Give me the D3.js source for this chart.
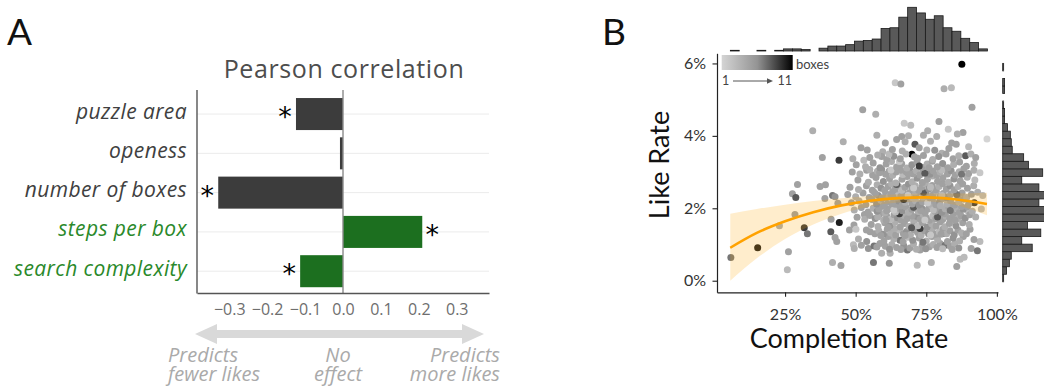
<!DOCTYPE html>
<html><head><meta charset="utf-8">
<script src="https://cdn.jsdelivr.net/npm/d3@7"></script>
<style>body{margin:0;background:#fff}svg{display:block}</style>
</head><body>
<svg id="c" width="1044" height="388"></svg>
<script>
// ---------- Panel A data ----------
const categories = ["puzzle area","openess","number of boxes","steps per box","search complexity"];
const correlations = [-0.124,-0.008,-0.329,0.209,-0.113];
const significant = [true,false,true,true,true];
const categoryGroup = ["dark","dark","dark","green","green"];
const corrTicks = [-0.3,-0.2,-0.1,0,0.1,0.2,0.3];
const effectLabels = [["Predicts","fewer likes"],["No","effect"],["Predicts","more likes"]];

// ---------- Panel B data ----------
const completionTicks = [25,50,75,100];
const likeTicks = [0,2,4,6];
// marginal histogram of completion rate (%), 29 bins
const topHistStart = 5.63, topHistWidth = 3.139;
const topHistCounts = [1,0,0,1,0,1,3,3,2,0,4,7,7,9,14,15,17,32,33,48,62,54,45,50,33,28,18,12,3];
// marginal histogram of like rate (%), 29 bins
const rightHistStart = -0.03, rightHistWidth = 0.208;
const rightHistCounts = [1,4,7,9,31,20,40,26,46,45,38,47,38,20,42,27,22,10,9,8,5,2,2,1,0,2,2,0,1];
// fitted curve and its confidence band
const fitCompletion = [5.6,15,25,35,45,55,65,75,85,96.5];
const fitLike      = [0.91,1.32,1.64,1.89,2.08,2.21,2.28,2.30,2.25,2.12];
const bandLow      = [0.00,0.62,1.15,1.55,1.85,2.05,2.16,2.19,2.10,1.81];
const bandHigh     = [1.85,1.98,2.10,2.20,2.28,2.34,2.39,2.41,2.41,2.43];
// puzzles: [completion %, like %, boxes]
const puzzles = [
[87.6,5.98,11],[64.0,5.47,2],[66.0,5.43,5],[81.3,5.30,4],[83.9,5.33,3],
[52.5,4.72,5],[57.1,4.60,4],[34.8,4.14,4],[67.2,4.35,2],[69.5,4.29,3],[79.5,4.40,5],[91.2,4.79,5],[82.8,4.18,2],[75.5,4.14,4],[88.0,4.09,5],[96.5,3.91,1],[57.5,4.02,4],[66.3,3.98,5],[68.7,4.00,4],[74.0,4.02,4],[78.7,3.98,4],[45.6,3.84,4],[67.5,3.84,4],[71.0,3.77,8],[84.0,3.80,5],[85.6,3.77,5],[90.0,3.70,3],[51.9,3.67,5],[54.1,3.61,5],[59.6,3.56,4],[69.9,3.49,11],[75.2,3.61,4],[80.5,3.52,4],[88.9,3.45,8],[90.8,3.50,4],[38.2,3.40,5],[44.1,3.33,9],[49.0,3.37,4],[52.9,3.33,3],[59.2,3.43,5],
[29.4,2.66,5],[27.6,2.40,5],[28.8,2.30,8],[37.4,2.60,5],[39.3,2.65,5],[41.8,2.35,7],[42.7,2.32,6],[39.1,2.27,5],[43.7,2.14,5],[28.5,1.83,5],[23.0,1.52,4],[31.8,1.46,9],[32.9,1.30,7],[26.2,0.80,5],[25.8,0.30,3],[41.8,0.50,4],[44.8,0.42,5],[44.2,1.61,10],[41.2,1.35,8],[43.3,1.08,5],[42.7,1.19,5],[41.3,1.70,5],[5.8,0.64,7],[15.3,0.91,10],
[47.8,1.40,5],[49.4,1.54,5],[50.1,1.42,2],[49.2,0.99,3],[49.5,0.89,4],[53.1,1.83,5],[55.1,1.35,5],[53.9,1.08,6],[54.5,0.89,6],[56.3,0.50,7],[59.2,0.76,4],[62.2,0.76,4],[61.9,0.48,6],[68.3,0.85,7],[71.8,0.43,3],[76.8,0.50,4],[85.8,0.39,5],[87.0,0.59,3],[88.4,0.65,3],[90.9,0.89,5],[94.0,1.08,3],[93.1,0.83,7],[81.1,1.31,10],[88.1,1.22,5],[89.7,1.93,3],[92.0,2.15,9],[90.5,1.42,5],[91.9,1.14,5],[72.8,0.85,5],[76.1,0.94,5],[79.9,1.03,5],[81.7,0.98,7],[63.3,1.38,2],[65.7,1.12,7],[58.6,1.03,5],[56.5,0.96,7],
[60.5,0.95,5],[62.8,1.00,4],[64.5,0.92,5],[67.0,0.97,6],[69.2,0.90,5],[70.5,1.02,4],[73.5,0.96,5],[74.8,0.88,6],[77.5,1.00,4],[78.8,0.92,5],[83.5,0.95,5],[85.0,1.02,4],[86.5,0.90,6],[57.5,0.93,5],[52.0,0.98,5],[66.0,0.86,5],[71.5,0.87,4],[80.8,0.88,3],[84.2,0.86,5],[62.0,0.87,6],
[60.0,1.10,5],[63.5,1.15,4],[66.8,1.08,5],[68.5,1.20,3],[70.2,1.12,6],[72.5,1.18,5],[75.0,1.10,4],[77.0,1.22,5],[79.0,1.14,4],[82.5,1.08,5],[84.5,1.18,6],[86.8,1.10,4],[61.5,1.22,5],[73.8,1.06,7],[51.0,1.15,4],
[56.8,1.30,5],[58.2,1.38,4],[59.8,1.28,6],[61.2,1.42,5],[62.5,1.32,4],[64.2,1.26,5],[65.5,1.40,3],[66.9,1.30,5],[68.0,1.36,6],[69.4,1.27,4],[70.8,1.41,5],[71.9,1.33,5],[73.2,1.26,4],[74.4,1.38,5],[75.8,1.30,6],[77.1,1.42,4],[78.3,1.28,5],[79.6,1.35,3],[80.9,1.43,5],[82.2,1.30,4],[83.4,1.38,5],[84.9,1.27,6],[86.2,1.40,5],[87.5,1.32,4],[89.2,1.30,5],[72.8,1.44,9],[67.5,1.25,5],[63.8,1.44,4],[76.5,1.26,2],[80.2,1.28,5],[58.9,1.25,5],[53.8,1.40,5],
[55.5,1.55,5],[57.9,1.50,4],[60.3,1.60,5],[62.1,1.52,6],[64.0,1.62,4],[65.8,1.48,5],[67.3,1.58,5],[68.9,1.50,4],[70.6,1.63,5],[72.0,1.52,3],[73.7,1.60,5],[75.3,1.48,6],[76.9,1.57,4],[78.5,1.51,5],[80.0,1.62,5],[81.6,1.49,4],[83.2,1.58,5],[85.5,1.52,6],[87.9,1.60,5],[90.2,1.55,4],[69.8,1.46,8],[61.5,1.47,5],
[50.5,1.75,5],[53.2,1.70,4],[55.0,1.80,5],[56.9,1.72,6],[58.5,1.84,5],[59.9,1.68,4],[61.0,1.78,5],[62.4,1.70,3],[63.6,1.82,5],[64.8,1.74,6],[66.1,1.67,5],[67.2,1.80,4],[68.3,1.72,5],[69.5,1.84,5],[70.6,1.68,4],[71.7,1.77,6],[72.8,1.70,5],[73.9,1.83,4],[75.0,1.74,5],[76.1,1.67,5],[77.3,1.79,3],[78.4,1.71,5],[79.6,1.84,6],[80.8,1.69,5],[82.0,1.78,4],[83.3,1.72,5],[84.6,1.83,5],[86.0,1.70,4],[87.4,1.79,5],[88.8,1.73,6],[90.4,1.82,5],[92.5,1.76,4],[65.5,1.85,9],[74.5,1.68,2],[79.0,1.76,8],[60.8,1.67,5],[70.0,1.79,5],[57.8,1.76,4],[81.5,1.85,5],[85.2,1.67,5],
[49.5,1.95,4],[52.0,2.02,5],[54.4,1.90,5],[56.2,2.00,4],[57.6,1.92,6],[59.1,2.05,5],[60.4,1.88,4],[61.7,1.98,5],[62.9,2.06,5],[64.1,1.90,3],[65.3,2.00,5],[66.5,1.93,6],[67.7,2.04,5],[68.8,1.89,4],[69.9,1.97,5],[71.1,2.05,5],[72.2,1.91,4],[73.4,2.00,6],[74.6,1.88,5],[75.7,1.98,5],[76.9,2.06,4],[78.1,1.92,5],[79.3,2.02,5],[80.5,1.89,6],[81.7,1.99,4],[82.9,2.05,5],[84.1,1.91,5],[85.4,2.00,4],[86.7,1.88,5],[88.1,1.97,6],[89.6,2.04,5],[91.3,1.92,4],[94.5,1.98,3],[63.5,1.95,2],[70.5,2.03,8],[77.5,1.95,3],[58.2,1.98,5],[66.0,2.06,5],[73.0,1.94,5],[83.5,1.94,7],[87.5,2.05,5],[61.0,1.93,5],
[48.5,2.15,5],[51.2,2.20,4],[53.6,2.10,5],[55.8,2.24,5],[57.4,2.12,6],[58.9,2.22,4],[60.2,2.09,5],[61.6,2.18,5],[62.8,2.26,3],[64.0,2.11,5],[65.2,2.20,6],[66.4,2.08,5],[67.6,2.17,4],[68.8,2.26,5],[70.0,2.12,5],[71.2,2.21,4],[72.4,2.09,6],[73.6,2.18,5],[74.8,2.27,5],[76.0,2.13,4],[77.2,2.22,5],[78.4,2.10,5],[79.7,2.19,6],[81.0,2.27,5],[82.3,2.12,4],[83.6,2.21,5],[85.0,2.09,5],[86.5,2.18,4],[88.2,2.25,5],[90.0,2.12,5],[67.0,2.24,9],[75.5,2.15,2],[80.0,2.08,4],[63.0,2.14,5],[59.5,2.27,5],
[47.2,2.38,5],[50.0,2.32,4],[52.6,2.42,5],[54.8,2.30,5],[56.5,2.45,4],[58.0,2.35,6],[59.4,2.29,5],[60.7,2.41,5],[61.9,2.33,4],[63.1,2.46,5],[64.3,2.30,5],[65.5,2.39,3],[66.7,2.47,5],[67.9,2.32,6],[69.0,2.42,5],[70.2,2.29,4],[71.4,2.37,5],[72.6,2.46,5],[73.8,2.31,4],[75.0,2.40,6],[76.2,2.29,5],[77.4,2.38,5],[78.6,2.47,4],[79.8,2.32,5],[81.0,2.41,5],[82.3,2.30,6],[83.6,2.39,5],[84.9,2.47,4],[86.2,2.33,5],[87.7,2.42,5],[89.3,2.30,4],[91.0,2.39,5],[93.2,2.44,4],[95.0,2.35,3],[68.5,2.35,2],[74.0,2.44,8],[62.5,2.38,5],[80.5,2.35,3],[57.0,2.40,5],[85.8,2.38,7],[66.0,2.33,5],[71.0,2.46,4],
[48.0,2.58,5],[51.0,2.52,4],[53.8,2.62,5],[55.9,2.50,5],[57.6,2.65,4],[59.0,2.55,6],[60.3,2.49,5],[61.5,2.60,5],[62.7,2.68,4],[63.9,2.52,5],[65.1,2.61,5],[66.3,2.50,3],[67.5,2.58,5],[68.7,2.67,6],[69.9,2.53,5],[71.1,2.62,4],[72.3,2.50,5],[73.5,2.59,5],[74.7,2.68,4],[75.9,2.54,6],[77.1,2.63,5],[78.3,2.51,5],[79.5,2.60,4],[80.8,2.68,5],[82.1,2.53,5],[83.4,2.62,6],[84.8,2.51,5],[86.3,2.60,4],[87.9,2.67,5],[89.6,2.55,5],[91.8,2.62,4],[70.5,2.56,2],[64.5,2.66,8],[76.5,2.58,3],
[50.8,2.78,5],[54.5,2.72,4],[57.2,2.85,5],[59.8,2.74,6],[62.0,2.82,5],[64.2,2.70,4],[66.4,2.80,5],[68.2,2.88,5],[70.0,2.73,4],[71.8,2.83,6],[73.6,2.71,5],[75.4,2.80,5],[77.2,2.89,4],[79.0,2.75,5],[80.9,2.84,5],[82.8,2.72,4],[84.8,2.81,6],[87.0,2.76,5],[89.5,2.86,4],[92.2,2.78,3],
[48.8,3.00,5],[51.5,2.95,4],[53.9,3.05,5],[56.0,2.92,5],[57.7,3.02,4],[59.2,3.08,6],[60.6,2.94,5],[61.9,3.03,5],[63.1,2.91,4],[64.3,3.00,5],[65.5,3.08,5],[66.7,2.93,3],[67.9,3.01,5],[69.1,3.09,6],[70.3,2.95,5],[71.5,3.04,4],[72.7,2.92,5],[73.9,3.00,5],[75.1,3.08,4],[76.3,2.94,6],[77.5,3.03,5],[78.7,2.91,5],[79.9,3.00,4],[81.2,3.08,5],[82.5,2.95,5],[83.8,3.04,6],[85.2,2.92,5],[86.7,3.01,4],[88.3,3.09,5],[90.0,2.96,5],[91.9,3.05,4],[94.0,2.98,2],[62.5,3.06,2],[74.5,2.97,8],[80.5,3.06,3],[68.5,2.97,5],[58.5,2.98,5],[87.5,2.94,7],[55.0,3.07,4],[66.0,3.05,5],
[50.2,3.20,5],[53.5,3.15,4],[56.2,3.25,5],[58.6,3.12,6],[60.8,3.22,5],[62.7,3.29,4],[64.5,3.14,5],[66.3,3.23,5],[68.1,3.11,4],[69.9,3.20,6],[71.7,3.28,5],[73.5,3.13,5],[75.3,3.22,4],[77.1,3.30,5],[78.9,3.15,5],[80.8,3.24,6],[82.7,3.12,5],[84.7,3.21,4],[86.8,3.28,5],[89.2,3.16,5],[92.0,3.24,4],[72.5,3.17,9],[65.5,3.29,2],[76.0,3.12,5],
[55.0,3.40,5],[57.8,3.47,4],[61.0,3.35,5],[63.5,3.44,6],[65.8,3.37,5],[67.8,3.50,4],[72.0,3.38,5],[74.0,3.46,5],[77.3,3.35,4],[79.4,3.43,6],[82.0,3.50,5],[84.5,3.37,5],[86.5,3.45,4],[92.5,3.40,5],[61.8,3.50,3],[70.8,3.42,5],
[63.0,3.62,5],[66.5,3.58,4],[72.5,3.67,5],[78.0,3.60,6],[83.0,3.65,5],
[60.5,3.80,5],[76.5,3.85,4],[64.5,3.90,5],[86.0,4.05,4]
];

const FONT = "Lato, 'Open Sans', sans-serif";
const FONT_A = "'Open Sans', Lato, sans-serif";
const svg = d3.select("#c").style("font-family", FONT);

// ================= Panel A =================
svg.append("text").attr("x",7).attr("y",45).attr("font-size",37).attr("fill","#111").text("A");
svg.append("text").attr("x",344).attr("y",78).attr("text-anchor","middle").attr("font-family",FONT_A)
  .attr("font-size",25).attr("letter-spacing",0.6).attr("fill","#4d4d4d").text("Pearson correlation");

const xA = d3.scaleLinear().domain([-0.385,0.385]).range([197,489]);
const yA = d3.scaleBand().domain(categories).range([94.5,290.75]).paddingInner(0.185).paddingOuter(0.09);
const bw = yA.bandwidth();
const darkCol = "#3c3c3c", greenBar = "#1c6f1f", greenText = "#2a892a";
const rows = categories.map((c,i)=>({c, v:correlations[i], sig:significant[i], g:categoryGroup[i]}));

const gA = svg.append("g");
gA.selectAll(".grid").data(rows).join("line")
  .attr("x1",xA.range()[0]).attr("x2",xA.range()[1])
  .attr("y1",d=>yA(d.c)+bw/2).attr("y2",d=>yA(d.c)+bw/2)
  .attr("stroke","#ebebeb").attr("stroke-width",1);

gA.selectAll(".bar").data(rows).join("rect")
  .attr("x",d=>Math.min(xA(d.v),xA(0))).attr("width",d=>Math.abs(xA(d.v)-xA(0)))
  .attr("y",d=>yA(d.c)).attr("height",bw)
  .attr("fill",d=>d.g==="green"?greenBar:darkCol);

gA.append("line").attr("x1",xA(0)).attr("x2",xA(0)).attr("y1",90).attr("y2",293)
  .attr("stroke","#8a8a8a").attr("stroke-width",1.4);
gA.append("line").attr("x1",xA.range()[0]).attr("x2",xA.range()[0]).attr("y1",90).attr("y2",293.5)
  .attr("stroke","#555").attr("stroke-width",1.4);

const axA = gA.append("g").attr("transform","translate(0,293)")
  .call(d3.axisBottom(xA).tickValues(corrTicks).tickFormat(d3.format(".1f")).tickSize(0).tickPadding(10.5));
axA.select(".domain").attr("stroke","#555").attr("stroke-width",1.4);
axA.selectAll("text").attr("font-size",16).attr("fill","#6e6e6e").attr("font-family",FONT_A);

gA.selectAll(".lab").data(rows).join("text")
  .attr("x",187).attr("y",d=>yA(d.c)+bw/2+4.5).attr("text-anchor","end").attr("font-family",FONT_A)
  .attr("font-size",21).attr("letter-spacing",0.4).attr("font-style","italic")
  .attr("fill",d=>d.g==="green"?greenText:"#404040").text(d=>d.c);

gA.selectAll(".star").data(rows.filter(d=>d.sig)).join("text")
  .attr("x",d=>d.v<0?xA(d.v)-11:xA(d.v)+10)
  .attr("y",d=>yA(d.c)+bw/2+12)
  .attr("text-anchor","middle").attr("font-size",27).attr("fill","#000")
  .attr("font-family","'DejaVu Sans', sans-serif").text("*");

// double arrow
const ay = 334, ax0 = 195, ax1 = 484;
gA.append("path")
  .attr("d",`M${ax0},${ay} L${ax0+22},${ay-10} L${ax0+22},${ay-4} L${ax1-22},${ay-4} L${ax1-22},${ay-10} L${ax1},${ay} L${ax1-22},${ay+10} L${ax1-22},${ay+4} L${ax0+22},${ay+4} L${ax0+22},${ay+10} Z`)
  .attr("fill","#d9d9d9");
const effX = [168, 338, 500];
const effAnchor = ["start","middle","end"];
effectLabels.forEach((lines,i)=>{
  lines.forEach((l,k)=>gA.append("text").attr("x",effX[i]).attr("y",361.5+k*19)
    .attr("text-anchor",effAnchor[i]).attr("font-family",FONT_A)
    .attr("font-size",20).attr("font-style","italic").attr("fill","#aaaaaa").text(l));
});

// ================= Panel B =================
svg.append("text").attr("x",602).attr("y",45).attr("font-size",37).attr("fill","#111").text("B");

const xB = d3.scaleLinear().domain([0.9,100.4]).range([717,998]);
const yB = d3.scaleLinear().domain([-0.32,6.28]).range([292.3,53.3]);
const boxColor = d3.scaleLinear().domain([1,6,11]).range(["#d4d4d4","#949494","#000000"]);

const gB = svg.append("g");
// top histogram
const hTop = d3.scaleLinear().domain([0,62]).range([0,43.7]);
gB.selectAll(".ht").data(topHistCounts).join("rect")
  .attr("x",(d,i)=>xB(topHistStart+i*topHistWidth))
  .attr("width",(d,i)=>xB(topHistStart+(i+1)*topHistWidth)-xB(topHistStart+i*topHistWidth))
  .attr("y",d=>51-hTop(d)).attr("height",d=>hTop(d))
  .attr("fill","#595959").attr("stroke","#1a1a1a").attr("stroke-width",0.8);
// right histogram
const hRight = d3.scaleLinear().domain([0,42]).range([0,40]);
const rb = 1002.7;
gB.selectAll(".hr").data(rightHistCounts).join("rect")
  .attr("y",(d,i)=>yB(rightHistStart+(i+1)*rightHistWidth))
  .attr("height",(d,i)=>yB(rightHistStart+i*rightHistWidth)-yB(rightHistStart+(i+1)*rightHistWidth))
  .attr("x",rb).attr("width",d=>hRight(d))
  .attr("fill","#595959").attr("stroke","#1a1a1a").attr("stroke-width",0.8);

// points
gB.selectAll(".pt").data(puzzles).join("circle")
  .attr("cx",d=>xB(d[0])).attr("cy",d=>yB(d[1])).attr("r",3.5)
  .attr("fill",d=>boxColor(d[2]));

// band and fit
const fitData = fitCompletion.map((c,i)=>({c, y:fitLike[i], lo:bandLow[i], hi:bandHigh[i]}));
gB.append("path").datum(fitData)
  .attr("d",d3.area().x(d=>xB(d.c)).y0(d=>yB(d.lo)).y1(d=>yB(d.hi)).curve(d3.curveMonotoneX))
  .attr("fill","#ffa500").attr("fill-opacity",0.2);
gB.append("path").datum(fitData)
  .attr("d",d3.line().x(d=>xB(d.c)).y(d=>yB(d.y)).curve(d3.curveMonotoneX))
  .attr("fill","none").attr("stroke","#ffa200").attr("stroke-width",2.6);

// axes
const axX = gB.append("g").attr("transform","translate(0,292.3)")
  .call(d3.axisBottom(xB).tickValues(completionTicks).tickFormat(d=>d+"%").tickSize(4.5).tickSizeOuter(0).tickPadding(12));
const axY = gB.append("g").attr("transform","translate(717,0)")
  .call(d3.axisLeft(yB).tickValues(likeTicks).tickFormat(d=>d+"%").tickSize(4.5).tickSizeOuter(0).tickPadding(6.5));
[axX,axY].forEach(a=>{
  a.select(".domain").attr("stroke","#222").attr("stroke-width",1.2);
  a.selectAll(".tick line").attr("stroke","#222").attr("stroke-width",1.1);
  a.selectAll("text").attr("font-size",16).attr("fill","#333").attr("font-family",FONT);
});

svg.append("text").attr("x",849).attr("y",348).attr("text-anchor","middle")
  .attr("font-size",27).attr("fill","#111").text("Completion Rate");
svg.append("text").attr("transform","translate(669,165) rotate(-90)").attr("text-anchor","middle")
  .attr("font-size",27).attr("fill","#111").text("Like Rate");

// legend
const defs = svg.append("defs");
const grad = defs.append("linearGradient").attr("id","boxgrad");
[1,6,11].forEach(b=>grad.append("stop").attr("offset",((b-1)/10*100)+"%").attr("stop-color",boxColor(b)));
gB.append("rect").attr("x",721.7).attr("y",55).attr("width",71).attr("height",15).attr("fill","url(#boxgrad)");
gB.append("text").attr("x",796).attr("y",69).attr("font-size",13).attr("fill","#444").text("boxes");
gB.append("text").attr("x",722).attr("y",85).attr("font-size",12.5).attr("fill","#444").text("1");
gB.append("text").attr("x",777.5).attr("y",85).attr("font-size",12.5).attr("fill","#444").text("11");
gB.append("line").attr("x1",733).attr("x2",770).attr("y1",81).attr("y2",81).attr("stroke","#555").attr("stroke-width",1);
gB.append("path").attr("d","M773,81 L767,78.3 L767,83.7 Z").attr("fill","#555");
</script>
</body></html>
